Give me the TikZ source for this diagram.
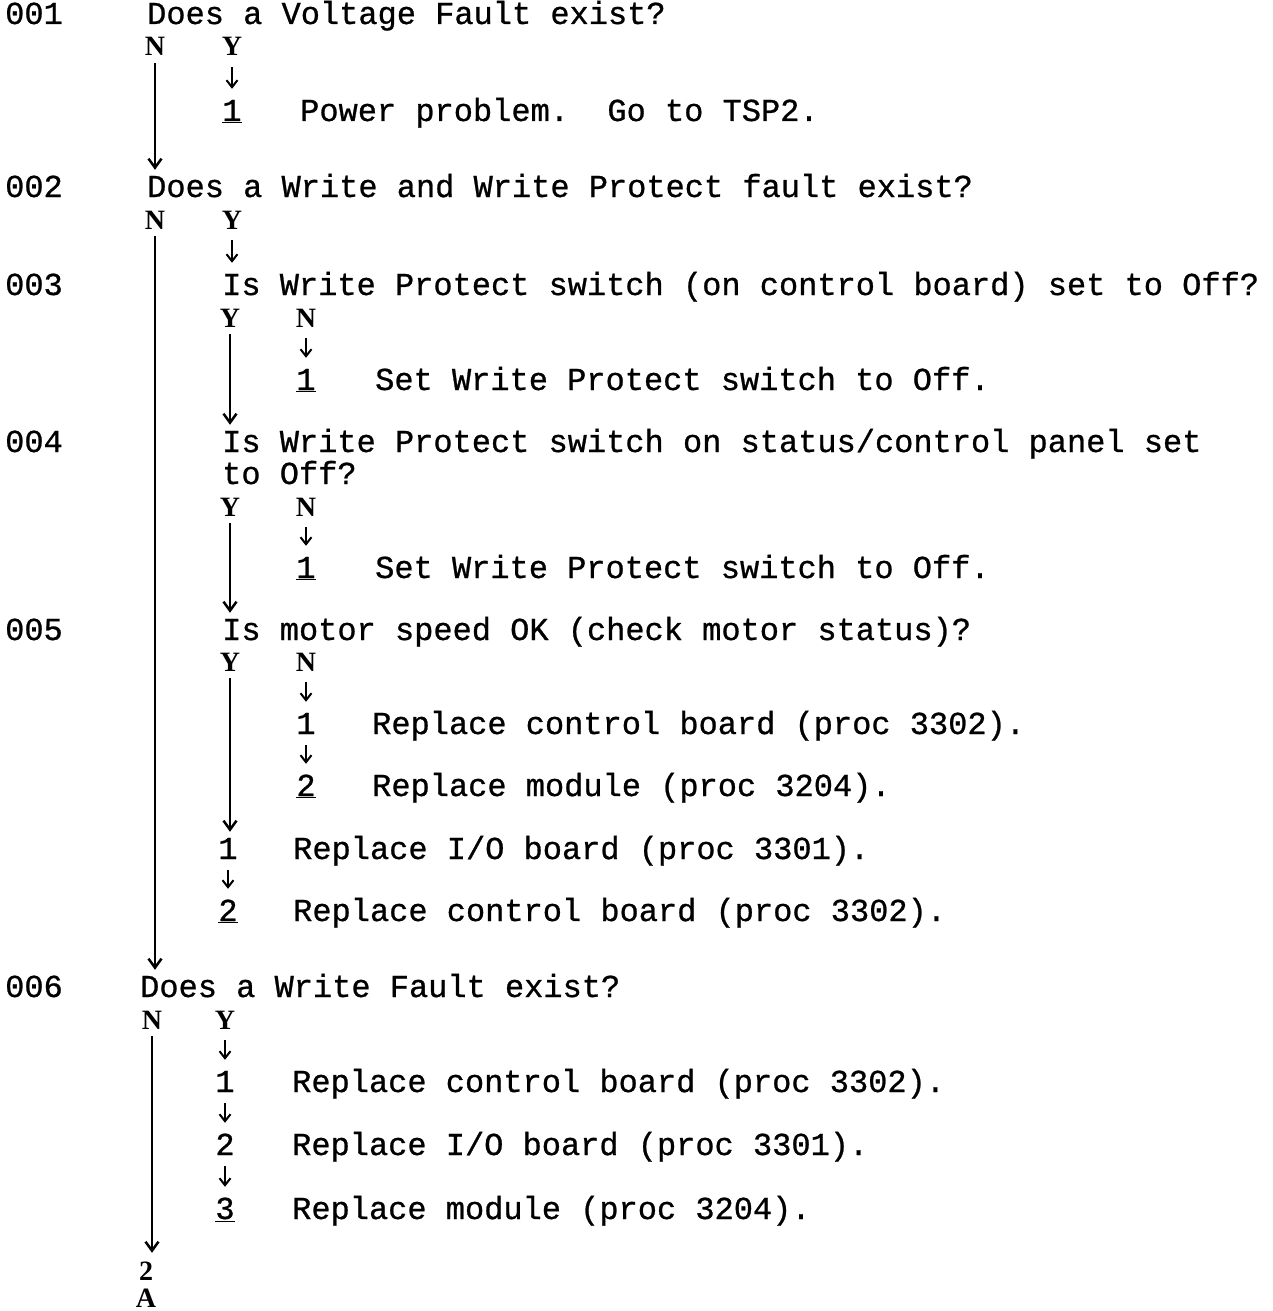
\documentclass[tikz,border=0pt]{standalone}
\usepackage{fontspec}
\newfontfamily\twfont[FakeBold=0.8]{Liberation Mono}
\newfontfamily\ynfont{Liberation Serif}
\usetikzlibrary{arrows,arrows.meta,positioning}
\frenchspacing

\begin{document}
\begin{tikzpicture}[x=1pt,y=-1pt]
\tikzstyle{every node}=[inner sep=0pt,text height=24pt,text depth=6pt]
\tikzstyle{txt}=[anchor=west,font=\fontsize{32}{38}\selectfont\twfont]
\tikzstyle{num}=[font=\fontsize{32}{38}\selectfont\twfont]
\tikzstyle{yn}=[font=\fontsize{28}{32}\selectfont\ynfont\bfseries]
\tikzstyle{short}=[-{Straight Barb[length=7pt,width=11pt,line width=2pt]},line width=2pt,shorten <=5pt,shorten >=8pt]
\tikzstyle{long}=[-{Straight Barb[length=9pt,width=13pt,line width=2.5pt]},line width=2.5pt,shorten <=1pt,shorten >=3pt]
\useasboundingbox (0,0) rectangle (1273,1311);
% 001
\node[txt] (l1) at (5,15) {001};
\node[txt] (q1) at (147,15) {Does a Voltage Fault exist?};
\node[yn] (n1) at (155,47) {N};
\node[yn] (y1) at (232,47) {Y};
\node[num] (a1) at (232,112) {\underline{1}};
\node[txt] (t1) at (300,112) {Power problem.\ \ Go to TSP2.};
% 002
\node[txt] (l2) at (5,188) {002};
\node[txt] (q2) at (147,188) {Does a Write and Write Protect fault exist?};
\node[yn] (n2) at (155,220) {N};
\node[yn] (y2) at (232,220) {Y};
% 003
\node[txt] (l3) at (5,286) {003};
\node[txt] (q3) at (222,286) {Is Write Protect switch (on control board) set to Off?};
\node[yn] (y3) at (230,318) {Y};
\node[yn] (n3) at (306,318) {N};
\node[num] (a3) at (306,381) {\underline{1}};
\node[txt] (t3) at (375,381) {Set Write Protect switch to Off.};
% 004
\node[txt] (l4) at (5,443) {004};
\node[txt] (q4) at (222,443) {Is Write Protect switch on status/control panel set};
\node[txt] (q4b) at (222,475) {to Off?};
\node[yn] (y4) at (230,507) {Y};
\node[yn] (n4) at (306,507) {N};
\node[num] (a4) at (306,569) {\underline{1}};
\node[txt] (t4) at (375,569) {Set Write Protect switch to Off.};
% 005
\node[txt] (l5) at (5,631) {005};
\node[txt] (q5) at (222,631) {Is motor speed OK (check motor status)?};
\node[yn] (y5) at (230,662) {Y};
\node[yn] (n5) at (306,662) {N};
\node[num] (a5) at (306,725) {1};
\node[txt] (t5) at (372,725) {Replace control board (proc 3302).};
\node[num] (b5) at (306,787) {\underline{2}};
\node[txt] (u5) at (372,787) {Replace module (proc 3204).};
\node[num] (c5) at (228,850) {1};
\node[txt] (v5) at (293,850) {Replace I/O board (proc 3301).};
\node[num] (d5) at (228,912) {\underline{2}};
\node[txt] (w5) at (293,912) {Replace control board (proc 3302).};
% 006
\node[txt] (l6) at (5,988) {006};
\node[txt] (q6) at (140,988) {Does a Write Fault exist?};
\node[yn] (n6) at (152,1020) {N};
\node[yn] (y6) at (225,1020) {Y};
\node[num] (a6) at (225,1083) {1};
\node[txt] (t6) at (292,1083) {Replace control board (proc 3302).};
\node[num] (b6) at (225,1146) {2};
\node[txt] (u6) at (292,1146) {Replace I/O board (proc 3301).};
\node[num] (c6) at (225,1210) {\underline{3}};
\node[txt] (v6) at (292,1210) {Replace module (proc 3204).};
\node[yn] (e6) at (146,1271) {2};
\node[yn] (f6) at (146,1298) {A};
% arrows
\draw[short] (y1) -- (a1);
\draw[long] (n1) -- (n1 |- q2.north);
\draw[short] (y2) -- (y2 |- q3.north);
\draw[long] (n2) -- (n2 |- q6.north);
\draw[long] (y3) -- (y3 |- q4.north);
\draw[short] (n3) -- (a3);
\draw[short] (n4) -- (a4);
\draw[long] (y4) -- (y4 |- q5.north);
\draw[short] (n5) -- (a5);
\draw[short] (a5) -- (b5);
\draw[long] (y5) -- (y5 |- c5.north);
\draw[short] (c5) -- (d5);
\draw[short] (y6) -- (a6);
\draw[short] (a6) -- (b6);
\draw[short] (b6) -- (c6);
\draw[long] (n6) -- (n6 |- e6.north);
\end{tikzpicture}
\end{document}
